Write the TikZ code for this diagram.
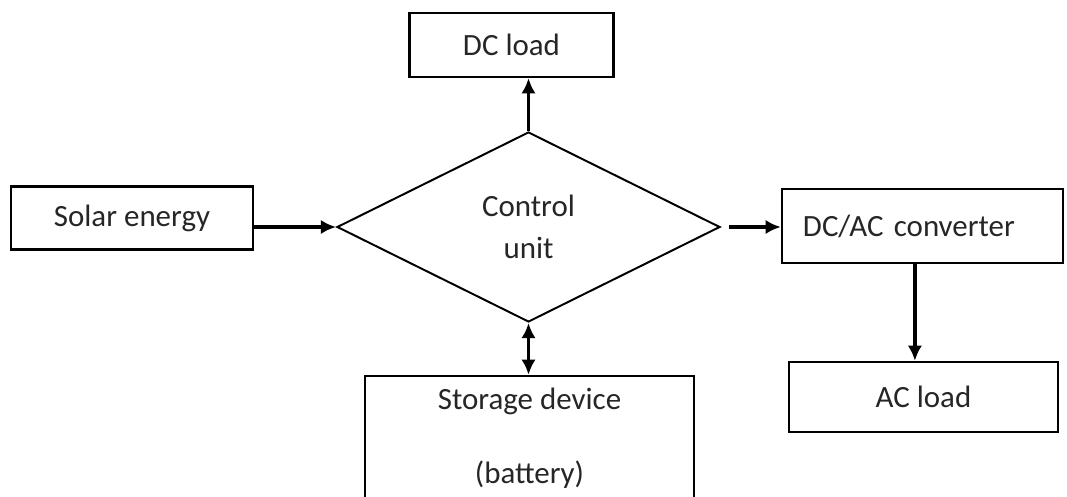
\documentclass[tikz,border=0pt]{standalone}
\usepackage{fontspec}
\setmainfont{Carlito}
\usepackage{tikz}
\usetikzlibrary{shapes.geometric,arrows.meta}

\begin{document}
\begin{tikzpicture}[x=0.025cm,y=-0.025cm,
    font=\fontsize{22}{27}\selectfont,
    block/.style={draw,line width=1.7pt,inner sep=0pt,text=black!85,align=center},
    arr/.style={line width=2.4pt,-{Latex[length=0.38cm,width=0.36cm]}}]
        \clip (0,0) rectangle (1067,497);
        \useasboundingbox (0,0) rectangle (1067,497);
        % Blocks
        \node[block,minimum width=204*0.025cm,minimum height=64*0.025cm] (DC) at (511.5,45) {DC load};
        \node[block,minimum width=242*0.025cm,minimum height=63*0.025cm] (Sol) at (132,218) {Solar energy};
        \node[diamond,draw,line width=1.4pt,inner sep=0pt,text=black!85,align=center,
              minimum width=383*0.025cm,minimum height=190*0.025cm] (Ctrl) at (528.5,227) {Control\\[0.1cm]unit};
        \node[block,align=left,text width=5.975cm,inner xsep=0.525cm,minimum height=74*0.025cm] (Conv) at (922.5,226) {DC/AC converter};
        \node[block,minimum width=269*0.025cm,minimum height=70*0.025cm] (AC) at (923.5,397) {AC load};
        \node[block,minimum width=329*0.025cm,minimum height=124*0.025cm] (Stor) at (529.5,438) {Storage device\\[0.9cm](battery)};
        % Flows
        \draw[arr] (Sol.east |- Ctrl.west) -- (Ctrl.west);
        \draw[arr,shorten <=0.2cm] (Ctrl.east) -- (Ctrl.east -| Conv.west);
        \draw[arr] (Ctrl.north) -- (Ctrl.north |- DC.south);
        \draw[arr,{Latex[length=0.38cm,width=0.36cm]}-{Latex[length=0.38cm,width=0.36cm]}] (Ctrl.south) -- (Ctrl.south |- Stor.north);
        \draw[arr] ([xshift=-0.19cm]Conv.south) -- ([xshift=-0.19cm]Conv.south |- AC.north);
\end{tikzpicture}
\end{document}
